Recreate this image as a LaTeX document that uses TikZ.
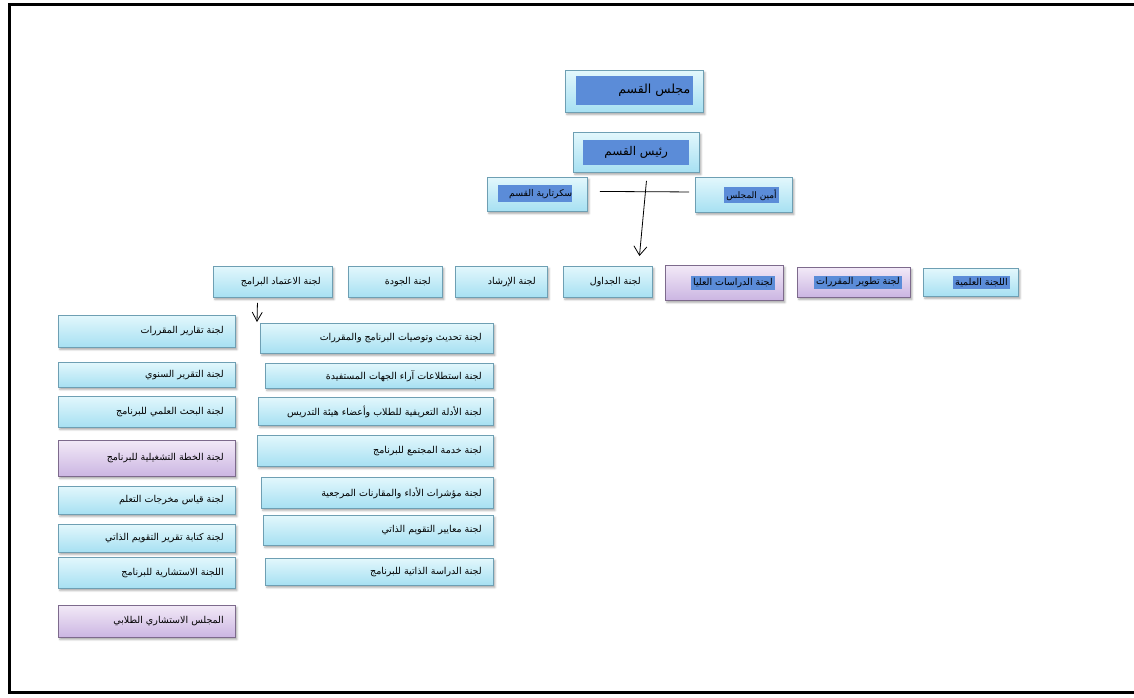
\documentclass[tikz,border=0pt]{standalone}
\usepackage{fontspec}
\newfontfamily\ar[Script=Arabic]{DejaVu Sans}
\TeXXeTstate=1
\usetikzlibrary{calc,shadows.blur,arrows.meta}
\definecolor{hl}{HTML}{5B8CD8}
\definecolor{cb}{HTML}{6E9FB3}
\definecolor{ctop}{HTML}{E2F7FC}
\definecolor{cbot}{HTML}{A6E0F2}
\definecolor{pb}{HTML}{7D6A8C}
\definecolor{ptop}{HTML}{F2E9F7}
\definecolor{pbot}{HTML}{CBB5E2}
\newcommand\RL[1]{\beginR #1\endR}
\begin{document}
\begin{tikzpicture}[x=1pt,y=-1pt,
  base/.style={anchor=north west, rectangle, line width=0.9pt, inner sep=0pt,
    blur shadow={shadow xshift=1.5pt, shadow yshift=-2pt, shadow blur radius=2pt, shadow opacity=35}},
  cbox/.style={base, draw=cb, top color=ctop, bottom color=cbot},
  pbox/.style={base, draw=pb, top color=ptop, bottom color=pbot},
  wh/.style 2 args={minimum width=#1, minimum height=#2},
  sm/.style={font=\fontsize{9.5}{10}\selectfont\ar},
  rt/.style={label={[sm, anchor=east, inner sep=0pt, xshift=-12pt]east:{\RL{#1}}}},
  rth/.style={label={[sm, anchor=east, inner sep=2pt, fill=hl, xshift=-9pt]east:{\RL{#1}}}},
  inner/.style={anchor=north west, fill=hl, inner sep=0pt},
  arr/.style={-{Straight Barb[length=9pt,width=13pt]}, line width=0.8pt},
]
\useasboundingbox (0,0) rectangle (1134,697);
\draw[line width=3pt] (1140,4) -- (9,4) -- (9,692) -- (1140,692);

% top group
\node[cbox, wh={138pt}{42pt}] (majlis) at (565,70) {};
\node[inner, wh={117pt}{29pt}, label={[font=\fontsize{12.5}{13}\selectfont\ar, anchor=east, inner sep=0pt, xshift=-3pt]east:{\RL{مجلس القسم}}}] (majlisin) at (576,76) {};
\node[cbox, wh={126pt}{40pt}] (raees) at (573,132) {};
\node[inner, wh={106pt}{25pt}, font=\fontsize{12}{13}\selectfont\ar] (raeesin) at (583,140) {\RL{رئيس القسم}};
\node[cbox, wh={100pt}{34pt}] (sec) at (487,177) {};
\node[inner, wh={74pt}{17pt}, label={[font=\fontsize{9.3}{10}\selectfont\ar, anchor=east, inner sep=0pt, xshift=0pt]east:{\RL{سكرتارية القسم}}}] (secin) at (498,185) {};
\node[cbox, wh={97pt}{35pt}, label={[font=\fontsize{9}{10}\selectfont\ar, anchor=east, inner sep=2pt, fill=hl, xshift=-14pt]east:{\RL{أمين المجلس}}}] (amin) at (695,177) {};

\draw[line width=0.8pt] ($(sec.east)+(12,-3)$) -- ($(amin.west)+(-6,-3)$);

% committee row
\node[cbox, wh={119pt}{31pt}, rt={لجنة الاعتماد البرامج}] (itimad) at (213,266) {};
\node[cbox, wh={94pt}{31pt}, rt={لجنة الجودة}] (jawda) at (348,266) {};
\node[cbox, wh={92pt}{31pt}, rt={لجنة الإرشاد}] (irshad) at (455,266) {};
\node[cbox, wh={89pt}{31pt}, rt={لجنة الجداول}] (jadawil) at (563,266) {};
\node[pbox, wh={118pt}{35pt}, rth={لجنة الدراسات العليا}] (dirasat) at (665,265) {};
\node[pbox, wh={113pt}{30pt}, rth={لجنة تطوير المقررات}] (tatweer) at (797,267) {};
\node[cbox, wh={95pt}{28pt}, rth={اللجنة العلمية}] (ilmiya) at (923,268) {};

\draw[arr] ($(raees.south)+(10,8)$) -- ($(jadawil.north)+(31.5,-10)$);

% left column
\node[cbox, wh={177pt}{32pt}, rt={لجنة تقارير المقررات}] (l1) at (58,315) {};
\node[cbox, wh={177pt}{25pt}, rt={لجنة التقرير السنوي}] (l2) at (58,362) {};
\node[cbox, wh={177pt}{31pt}, rt={لجنة البحث العلمي للبرنامج}] (l3) at (58,396) {};
\node[pbox, wh={177pt}{36pt}, rt={لجنة الخطة التشغيلية للبرنامج}] (l4) at (58,440) {};
\node[cbox, wh={177pt}{28pt}, rt={لجنة قياس مخرجات التعلم}] (l5) at (58,486) {};
\node[cbox, wh={177pt}{28pt}, rt={لجنة كتابة تقرير التقويم الذاتي}] (l6) at (58,524) {};
\node[cbox, wh={177pt}{31pt}, rt={اللجنة الاستشارية للبرنامج}] (l7) at (58,557) {};
\node[pbox, wh={177pt}{32pt}, rt={المجلس الاستشاري الطلابي}] (l8) at (58,605) {};

% middle column
\node[cbox, wh={233pt}{30pt}, rt={لجنة تحديث وتوصيات البرنامج والمقررات}] (m1) at (260,323) {};
\node[cbox, wh={228pt}{25pt}, rt={لجنة استطلاعات آراء الجهات المستفيدة}] (m2) at (265,363) {};
\node[cbox, wh={235pt}{28pt}, rt={لجنة الأدلة التعريفية للطلاب وأعضاء هيئة التدريس}] (m3) at (258,397) {};
\node[cbox, wh={236pt}{31pt}, rt={لجنة خدمة المجتمع للبرنامج}] (m4) at (257,435) {};
\node[cbox, wh={232pt}{31pt}, rt={لجنة مؤشرات الأداء والمقارنات المرجعية}] (m5) at (261,477) {};
\node[cbox, wh={230pt}{30pt}, rt={لجنة معايير التقويم الذاتي}] (m6) at (263,515) {};
\node[cbox, wh={228pt}{27pt}, rt={لجنة الدراسة الذاتية للبرنامج}] (m7) at (265,558) {};

\draw[-{Straight Barb[length=9pt,width=10pt]}, line width=0.8pt] ($(itimad.south)+(-15.5,5)$) -- ($(m1.north west)+(-3,-1)$);
\end{tikzpicture}
\end{document}
